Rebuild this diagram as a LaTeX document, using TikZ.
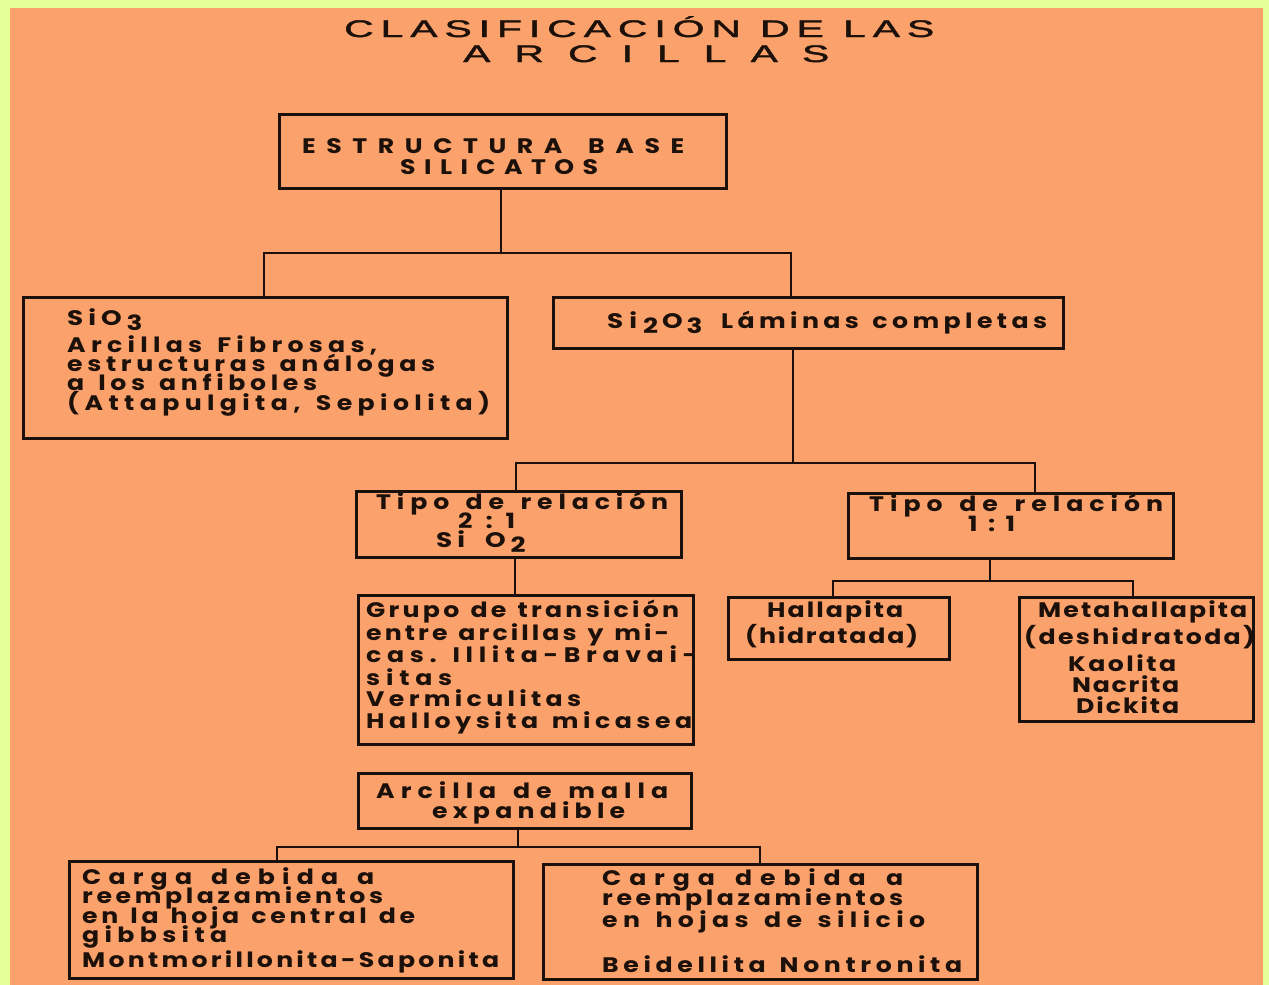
\documentclass[tikz,border=0pt]{standalone}
\usepackage{fontspec}
\setmainfont{Poppins}
\newfontfamily\titlefont{Liberation Sans}[FakeBold=1.4]
\usetikzlibrary{calc}

\definecolor{paper}{RGB}{251,161,107}
\definecolor{frame}{RGB}{229,255,153}
\definecolor{ink}{RGB}{28,16,10}

% spread the characters of #3 evenly over the width #2,
% each character widened by the factor #1
\ExplSyntaxOn
\NewDocumentCommand \spread { O{1.2} m m }
 {
  \hbox_to_wd:nn { #2 }
   {
    \bool_set_true:N \l_tmpa_bool
    \str_map_inline:nn { #3 }
     {
      \bool_if:NF \l_tmpa_bool { \hfill }
      \bool_set_false:N \l_tmpa_bool
      \str_if_eq:nnTF { ##1 } { ~ }
       { \hskip 0.22em }
       { \scalebox{#1}[1]{##1} }
     }
   }
 }
\ExplSyntaxOff
\newcommand\wide[1]{\scalebox{1.25}[1]{#1}}
\newcommand\lowered[1]{\raisebox{-5pt}{\wide{#1}}}

\tikzset{
  box/.style={draw=ink, line width=2.5pt, rectangle, anchor=north west, inner sep=0pt},
  wire/.style={draw=ink, line width=2.5pt},
  ln/.style={anchor=base west, inner sep=0pt, text=ink, font=\fontsize{21}{21}\selectfont\bfseries},
  ttl/.style={anchor=base west, inner sep=0pt, text=ink, font=\titlefont\fontsize{24}{24}\selectfont},
}

\begin{document}
\begin{tikzpicture}[x=1pt, y=-1pt]
\useasboundingbox (0,0) rectangle (1269,985);
\fill[frame] (0,0) rectangle (1269,985);
\fill[paper] (10,8) rectangle (1263,985);

% title
\node[ttl] (title1) at (344,37) {\spread[1.7]{590pt}{CLASIFICACIÓN DE LAS}};
\node[ttl] (title2) at (463,62) {\spread[1.7]{366pt}{ARCILLAS}};

% boxes
\node[box, minimum width=447pt, minimum height=74pt]  (base)   at (278,113) {};
\node[box, minimum width=484pt, minimum height=141pt] (sio3)   at (22,296)  {};
\node[box, minimum width=510pt, minimum height=51pt]  (si2o3)  at (552,296) {};
\node[box, minimum width=325pt, minimum height=66pt]  (rel21)  at (355,490) {};
\node[box, minimum width=325pt, minimum height=65pt]  (rel11)  at (847,492) {};
\node[box, minimum width=335pt, minimum height=149pt] (grupo)  at (357,594) {};
\node[box, minimum width=221pt, minimum height=62pt]  (hall)   at (727,596) {};
\node[box, minimum width=234pt, minimum height=124pt] (meta)   at (1018,596) {};
\node[box, minimum width=333pt, minimum height=55pt]  (malla)  at (357,772) {};
\node[box, minimum width=444pt, minimum height=117pt] (gibb)   at (68,860)  {};
\node[box, minimum width=434pt, minimum height=115pt] (silic)  at (542,863) {};

% connectors
\coordinate (j1) at (501,253); \coordinate (j1l) at (264,253); \coordinate (j1r) at (791,253);
\draw[wire] (base.south -| j1) -- (j1);
\draw[wire] (sio3.north -| j1l) -- (j1l) -- (j1r) -- (si2o3.north -| j1r);

\coordinate (j2) at (793,463); \coordinate (j2l) at (516,463); \coordinate (j2r) at (1035,463);
\draw[wire] (si2o3.south -| j2) -- (j2);
\draw[wire] (rel21.north -| j2l) -- (j2l) -- (j2r) -- (rel11.north -| j2r);

\coordinate (c21) at (515,575);
\draw[wire] (rel21.south -| c21) -- (grupo.north -| c21);

\coordinate (j3) at (990,581); \coordinate (j3l) at (833,581); \coordinate (j3r) at (1133,581);
\draw[wire] (rel11.south -| j3) -- (j3);
\draw[wire] (hall.north -| j3l) -- (j3l) -- (j3r) -- (meta.north -| j3r);

\coordinate (j4) at (518,847); \coordinate (j4l) at (277,847); \coordinate (j4r) at (760,847);
\draw[wire] (malla.south -| j4) -- (j4);
\draw[wire] (gibb.north -| j4l) -- (j4l) -- (j4r) -- (silic.north -| j4r);

% texts
\node[ln] (tb1) at (302,153) {\spread{382pt}{ESTRUCTURA BASE}};
\node[ln] (tb2) at (400,174) {\spread{198pt}{SILICATOS}};

\node[ln] (ts0) at (67,325) {\wide{S}\kern5pt\wide{i}\kern5pt\wide{O}\kern5pt\lowered{3}};
\node[ln] (ts1) at (67,352) {\spread{310pt}{Arcillas Fibrosas,}};
\node[ln] (ts2) at (67,371) {\spread{368pt}{estructuras análogas}};
\node[ln] (ts3) at (67,390) {\spread{250pt}{a los anfiboles}};
\node[ln] (ts4) at (67,410) {\spread{423pt}{(Attapulgita, Sepiolita)}};

\node[ln] (tl0) at (607,328) {\wide{S}\kern6pt\wide{i}\kern6pt\lowered{2}\kern4pt\wide{O}\kern4pt\lowered{3}};
\node[ln] (tl1) at (721,328) {\spread{326pt}{Láminas completas}};

\node[ln] (tr1) at (376,509) {\spread{292pt}{Tipo de relación}};
\node[ln] (tr2) at (458,528) {\spread{57pt}{2:1}};
\node[ln] (tr3) at (436,547) {\wide{S}\kern5pt\wide{i}\kern20pt\wide{O}\kern5pt\lowered{2}};

\node[ln] (tq1) at (869,511) {\spread{294pt}{Tipo de relación}};
\node[ln] (tq2) at (968,531) {\spread{47pt}{1:1}};

\node[ln] (tg1) at (366,617) {\spread{313pt}{Grupo de transición}};
\node[ln] (tg2) at (366,640) {\spread{303pt}{entre arcillas y mi-}};
\node[ln] (tg3) at (366,662) {\spread{331pt}{cas. Illita-Bravai-}};
\node[ln] (tg4) at (366,685) {\spread{86pt}{sitas}};
\node[ln] (tg5) at (366,706) {\spread{215pt}{Vermiculitas}};
\node[ln] (tg6) at (366,728) {\spread{326pt}{Halloysita micasea}};

\node[ln] (th1) at (767,617) {\spread{136pt}{Hallapita}};
\node[ln] (th2) at (745,643) {\spread{173pt}{(hidratada)}};

\node[ln] (tm1) at (1038,617) {\spread{209pt}{Metahallapita}};
\node[ln] (tm2) at (1024,644) {\spread{231pt}{(deshidratoda)}};
\node[ln] (tm3) at (1068,671) {\spread{108pt}{Kaolita}};
\node[ln] (tm4) at (1072,692) {\spread{107pt}{Nacrita}};
\node[ln] (tm5) at (1076,713) {\spread{103pt}{Dickita}};

\node[ln] (te1) at (376,798) {\spread{292pt}{Arcilla de malla}};
\node[ln] (te2) at (432,818) {\spread{193pt}{expandible}};

\node[ln] (tc1) at (82,884) {\spread{292pt}{Carga debida a}};
\node[ln] (tc2) at (82,903) {\spread{301pt}{reemplazamientos}};
\node[ln] (tc3) at (82,923) {\spread{333pt}{en la hoja central de}};
\node[ln] (tc4) at (82,942) {\spread{145pt}{gibbsita}};
\node[ln] (tc5) at (82,967) {\spread{417pt}{Montmorillonita-Saponita}};

\node[ln] (td1) at (602,885) {\spread{301pt}{Carga debida a}};
\node[ln] (td2) at (602,905) {\spread{301pt}{reemplazamientos}};
\node[ln] (td3) at (602,927) {\spread{323pt}{en hojas de silicio}};
\node[ln] (td4) at (602,972) {\spread{360pt}{Beidellita  Nontronita}};
\end{tikzpicture}
\end{document}
